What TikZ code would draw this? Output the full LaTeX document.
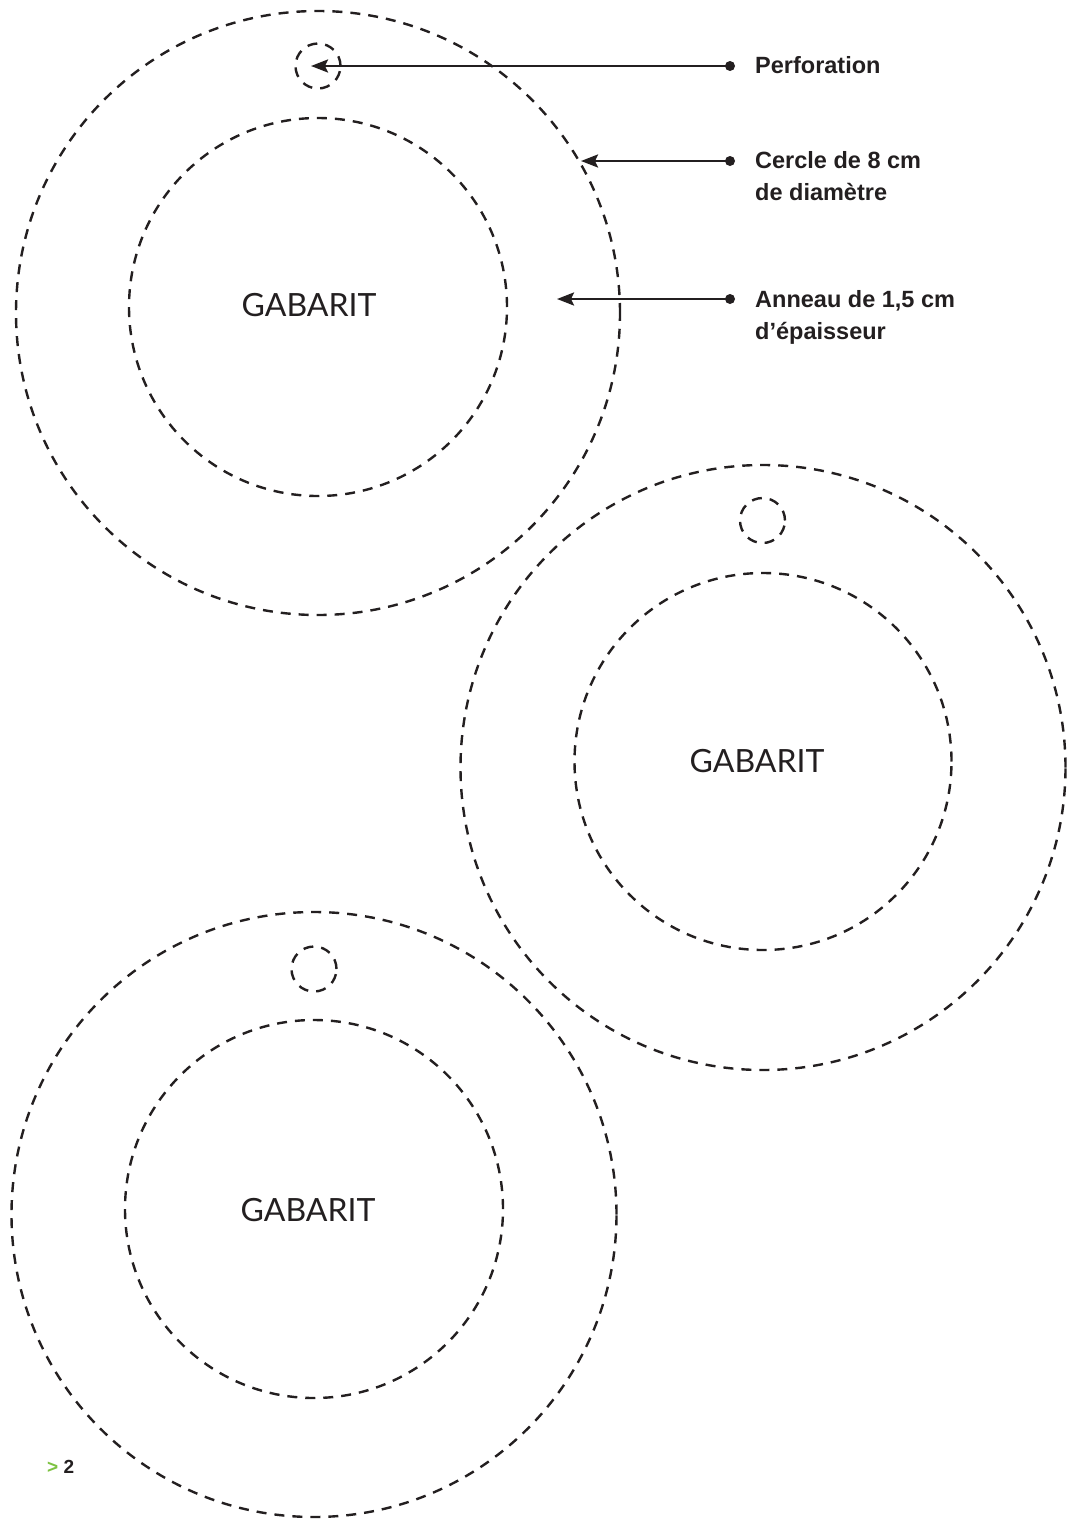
\documentclass[tikz,border=0pt]{standalone}
\usepackage{fontspec}
\setmainfont{Liberation Sans}
\newfontfamily\gabfont{Lato}
\usetikzlibrary{arrows.meta}
\definecolor{pagegreen}{RGB}{125,194,66}
\definecolor{ink}{RGB}{35,31,32}
\tikzset{
  cutline/.style={draw=ink, line width=2.4pt, dash pattern=on 10pt off 8pt},
  gab/.style={font=\gabfont\fontsize{32}{36}\selectfont, text=ink, inner sep=0pt},
  lbl/.style={font=\bfseries\fontsize{23.5}{32}\selectfont, text=ink, anchor=base west, inner sep=0pt, align=left},
  dotn/.style={circle, fill=ink, minimum size=10pt, inner sep=0pt},
  arr/.style={draw=ink, line width=2.6pt, -{Stealth[length=17pt,width=13pt,inset=3pt]}}
}
\begin{document}
\begin{tikzpicture}[x=1pt,y=-1pt]
\useasboundingbox (0,0) rectangle (1073,1521);
% gabarit 1
\draw[cutline] (318,313) circle[radius=302pt];
\draw[cutline] (318,307) circle[radius=189pt];
\draw[cutline] (318,66) circle[radius=22.5pt];
\node[gab] (g1) at (309,305) {GABARIT};
% gabarit 2
\draw[cutline] (763,767.5) circle[radius=302.5pt];
\draw[cutline] (763,761.5) circle[radius=188.5pt];
\draw[cutline] (762.5,520.5) circle[radius=22.5pt];
\node[gab] (g2) at (757,761) {GABARIT};
% gabarit 3
\draw[cutline] (314,1214.5) circle[radius=302.5pt];
\draw[cutline] (314,1209) circle[radius=189pt];
\draw[cutline] (314,969) circle[radius=22.5pt];
\node[gab] (g3) at (308,1210) {GABARIT};
% labels
\node[dotn] (d1) at (730,66) {};
\node[dotn] (d2) at (730,161) {};
\node[dotn] (d3) at (730,299) {};
\coordinate (t1) at (311,66);
\coordinate (t2) at (581,161);
\coordinate (t3) at (557,299);
\draw[arr] (d1.center) -- (t1);
\draw[arr] (d2.center) -- (t2);
\draw[arr] (d3.center) -- (t3);
\node[lbl] (l1) at (755,73) {Perforation};
\node[lbl, anchor=north west] (l2) at (755,151) {Cercle de 8 cm\\de diamètre};
\node[lbl, anchor=north west] (l3) at (755,290) {Anneau de 1,5 cm\\d’épaisseur};
\node[font=\bfseries\fontsize{19}{22}\selectfont, anchor=base west, inner sep=0pt, text=ink] (pg) at (47,1473) {\textcolor{pagegreen}{>} 2};
\end{tikzpicture}
\end{document}
